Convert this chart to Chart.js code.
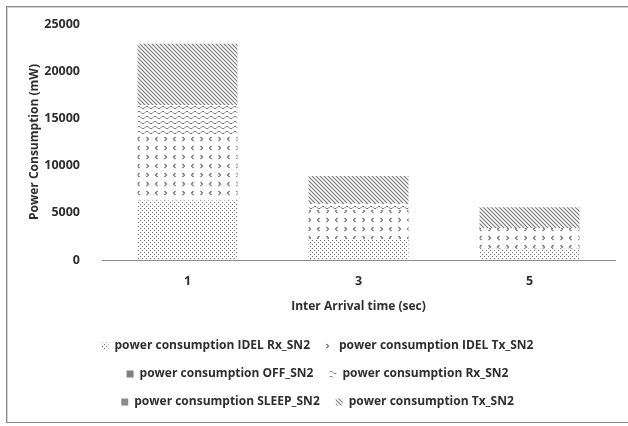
<!DOCTYPE html>
<html><head><meta charset="utf-8">
<script src="https://cdn.jsdelivr.net/npm/chart.js@4.4.1/dist/chart.umd.min.js"></script>
<style>
html,body{margin:0;padding:0;background:#fff;overflow:hidden;}
#wrap{position:relative;width:628px;height:426px;overflow:hidden;}
#frame{position:absolute;left:6px;top:6px;width:700px;height:415px;border:1px solid #8a8a8a;box-shadow:inset 1px 1px 0 #d4d4d4;}
canvas{position:absolute;left:0;top:0;}
</style></head><body>
<div id="wrap"><div id="frame"></div><canvas id="c" width="628" height="426"></canvas></div>
<script>
// ---- data ----
const categories = ['1', '3', '5'];
const idelRxSN2 = [6300, 2200, 1200];
const idelTxSN2 = [7000, 3100, 2200];
const offSN2 = [0, 0, 0];
const rxSN2 = [3100, 700, 0];
const sleepSN2 = [0, 0, 0];
const txSN2 = [6500, 2900, 2200];
const seriesNames = [
  'power consumption IDEL Rx_SN2',
  'power consumption IDEL Tx_SN2',
  'power consumption OFF_SN2',
  'power consumption Rx_SN2',
  'power consumption SLEEP_SN2',
  'power consumption Tx_SN2'
];
const yTicks = [0, 5000, 10000, 15000, 20000, 25000];

// ---- patterns ----
function makePattern(w, h, draw) {
  const c = document.createElement('canvas');
  c.width = w; c.height = h;
  const g = c.getContext('2d');
  g.fillStyle = '#fff'; g.fillRect(0, 0, w, h);
  draw(g);
  return g.createPattern(c, 'repeat');
}
const ctx = document.getElementById('c').getContext('2d');
const patDots = makePattern(4, 4, g => {
  g.fillStyle = '#6a6a6a';
  g.fillRect(0, 0, 1, 1); g.fillRect(2, 2, 1, 1);
});
const patChevron = makePattern(18, 9, g => {
  g.strokeStyle = '#6e6e6e'; g.lineWidth = 1.2;
  g.beginPath();
  g.moveTo(2.5, 2); g.lineTo(4.5, 4); g.lineTo(2.5, 6);
  g.moveTo(13.5, 2); g.lineTo(11.5, 4); g.lineTo(13.5, 6);
  g.stroke();
});
const patWave = makePattern(8, 5, g => {
  g.strokeStyle = '#7a7a7a'; g.lineWidth = 1;
  g.beginPath();
  g.moveTo(0, 3.5); g.lineTo(2, 1.5); g.lineTo(4, 1.5); g.lineTo(6, 3.5); g.lineTo(8, 3.5);
  g.stroke();
});
const patDiag = makePattern(4, 4, g => {
  g.strokeStyle = '#777777'; g.lineWidth = 1.1;
  g.beginPath();
  g.moveTo(-1, -1); g.lineTo(5, 5);
  g.moveTo(-1, 3); g.lineTo(1, 5);
  g.moveTo(3, -1); g.lineTo(5, 1);
  g.stroke();
});

const font = { family: 'Open Sans', weight: 'bold', size: 12 };
const tickFont = { family: 'Open Sans', weight: 'bold', size: 12.5 };
const txt = '#2e2e2e';

new Chart(ctx, {
  type: 'bar',
  data: {
    labels: categories,
    datasets: [
      { label: seriesNames[0], data: idelRxSN2, backgroundColor: patDots },
      { label: seriesNames[1], data: idelTxSN2, backgroundColor: patChevron },
      { label: seriesNames[2], data: offSN2, backgroundColor: '#7f7f7f' },
      { label: seriesNames[3], data: rxSN2, backgroundColor: patWave },
      { label: seriesNames[4], data: sleepSN2, backgroundColor: '#8a8a8a' },
      { label: seriesNames[5], data: txSN2, backgroundColor: patDiag }
    ].map(d => Object.assign(d, { borderWidth: 0, barPercentage: 0.585, categoryPercentage: 1 }))
  },
  options: {
    responsive: false,
    animation: false,
    layout: { padding: { left: 20, right: 13, top: 24, bottom: 8 } },
    plugins: {
      legend: {
        position: 'bottom',
        labels: { boxWidth: 7, boxHeight: 7, padding: 16, color: txt, font: font }
      },
      tooltip: { enabled: false }
    },
    scales: {
      x: {
        stacked: true,
        grid: { display: true, drawOnChartArea: false, drawTicks: false },
        border: { display: true, color: '#8c8c8c', width: 1 },
        ticks: { padding: 14, color: txt, font: tickFont },
        title: { display: true, text: 'Inter Arrival time (sec)', color: txt, font: font, padding: { top: 4, bottom: 10 } },
        afterFit: s => { s.height = 64; }
      },
      y: {
        stacked: true,
        min: 0, max: 25000,
        afterBuildTicks: s => { s.ticks = yTicks.map(v => ({ value: v })); },
        ticks: { padding: 14, color: txt, font: tickFont, callback: v => String(v) },
        grid: { display: false },
        border: { display: false },
        title: { display: true, text: 'Power Consumption (mW)', color: txt, font: font, padding: { top: 7, bottom: 0 } },
        afterFit: s => { s.width = 82; }
      }
    }
  }
});
</script>
</body></html>
